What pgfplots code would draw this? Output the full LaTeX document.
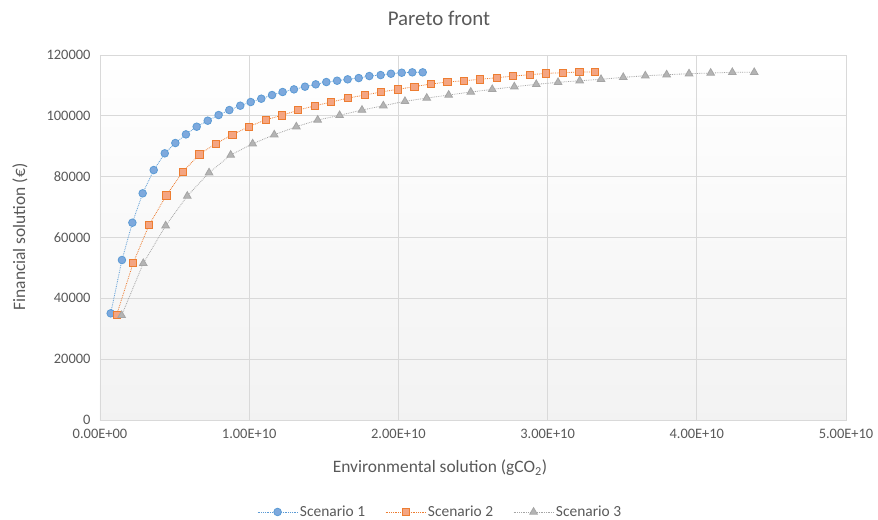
\documentclass[border=0pt]{standalone}
\usepackage{pgfplots}
\pgfplotsset{compat=1.18}
\usepackage{fontspec}
\setmainfont{Carlito}
\definecolor{gridgray}{HTML}{D9D9D9}
\definecolor{textgray}{HTML}{595959}
\definecolor{bluefill}{HTML}{7EA9DD}
\definecolor{blueline}{HTML}{5B9BD5}
\definecolor{orangefill}{HTML}{F4A582}
\definecolor{orangeline}{HTML}{ED7D31}
\definecolor{grayfill}{HTML}{B4B4B4}
\definecolor{grayline}{HTML}{A5A5A5}
\begin{document}
\begin{tikzpicture}
\path[use as bounding box] (-100bp,-100bp) rectangle (778bp,420bp);
\begin{axis}[
  at={(0,0)}, anchor=south west,
  scale only axis, width=746bp, height=365bp,
  xmin=0, xmax=5e10, ymin=0, ymax=120000,
  scaled ticks=false,
  xtick={0,1e10,2e10,3e10,4e10,5e10},
  xticklabels={0.00E+00,1.00E+10,2.00E+10,3.00E+10,4.00E+10,5.00E+10},
  ytick={0,20000,40000,60000,80000,100000,120000},
  yticklabels={0,20000,40000,60000,80000,100000,120000},
  grid=major,
  grid style={color=gridgray, line width=0.9bp},
  axis line style={color=gridgray, line width=0.9bp},
  major tick length=0pt,
  tick label style={font=\fontsize{14.5}{16}\selectfont, text=textgray},
  xticklabel style={yshift=-6bp},
  yticklabel style={xshift=-6bp},
  axis background/.style={shade, top color=white, bottom color=black!5},
  legend style={at={(0.456,-0.252)}, anchor=center, draw=none, fill=none,
    font=\fontsize{15.5}{17}\selectfont, text=textgray,
    /tikz/every even column/.append style={column sep=18bp}},
  legend columns=3,
  legend cell align=left,
  legend image code/.code={\draw[mark repeat=2,mark phase=2] plot coordinates {(0bp,0bp) (20bp,0bp) (40bp,0bp)};},
]
\addplot[blueline, densely dotted, line width=0.8bp, mark=*, mark size=3.8bp,
  mark options={solid, fill=bluefill, draw=blueline, line width=0.8bp}] coordinates {
(0.0717e10,35070) (0.147e10,52600) (0.217e10,64860) (0.286e10,74520) (0.360e10,82180)
(0.434e10,87670) (0.505e10,91060) (0.576e10,93900) (0.648e10,96420) (0.722e10,98400)
(0.795e10,100260) (0.867e10,101900) (0.940e10,103330) (1.010e10,104540) (1.081e10,105630)
(1.153e10,106840) (1.224e10,107830) (1.300e10,108700) (1.374e10,109580) (1.446e10,110350)
(1.517e10,111110) (1.589e10,111540) (1.660e10,112000) (1.734e10,112420) (1.805e10,113080)
(1.881e10,113400) (1.950e10,113840) (2.022e10,114170) (2.093e10,114300) (2.163e10,114300)
};
\addlegendentry{Scenario 1}
\addplot[orangeline, densely dotted, line width=0.8bp, mark=square*, mark size=3.6bp,
  mark options={solid, fill=orangefill, draw=orangeline, line width=0.8bp}] coordinates {
(0.112e10,34620) (0.223e10,51720) (0.330e10,64200) (0.445e10,73860) (0.554e10,81530)
(0.666e10,87340) (0.775e10,90830) (0.887e10,93790) (0.997e10,96420) (1.111e10,98720)
(1.220e10,100160) (1.329e10,101900) (1.441e10,103330) (1.550e10,104540) (1.662e10,105850)
(1.774e10,106840) (1.883e10,107830) (1.995e10,108700) (2.107e10,109580) (2.216e10,110460)
(2.328e10,111110) (2.438e10,111540) (2.547e10,112000) (2.659e10,112530) (2.770e10,113080)
(2.882e10,113520) (2.989e10,113960) (3.103e10,114180) (3.213e10,114400) (3.318e10,114400)
};
\addlegendentry{Scenario 2}
\addplot[grayline, densely dotted, line width=0.8bp, mark=triangle*, mark size=4.4bp,
  mark options={solid, fill=grayfill, draw=grayline, line width=0.8bp}] coordinates {
(0.145e10,34400) (0.290e10,51500) (0.440e10,63880) (0.585e10,73630) (0.731e10,81300)
(0.876e10,87110) (1.023e10,90830) (1.168e10,93790) (1.316e10,96420) (1.459e10,98620)
(1.606e10,100160) (1.756e10,101900) (1.899e10,103330) (2.044e10,104770) (2.190e10,105850)
(2.337e10,106840) (2.485e10,107830) (2.629e10,108700) (2.777e10,109580) (2.924e10,110350)
(3.070e10,111010) (3.215e10,111540) (3.358e10,112000) (3.507e10,112660) (3.655e10,113180)
(3.798e10,113520) (3.948e10,113850) (4.093e10,114070) (4.238e10,114300) (4.385e10,114300)
};
\addlegendentry{Scenario 3}
\end{axis}
\node[text=textgray, font=\fontsize{21}{24}\selectfont] at (339bp,402bp) {Pareto front};
\node[text=textgray, font=\fontsize{17.5}{20}\selectfont] at (340bp,-48bp) {Environmental solution (gCO\textsubscript{2})};
\node[text=textgray, font=\fontsize{17.5}{20}\selectfont, rotate=90] at (-80bp,183bp) {Financial solution (€)};
\end{tikzpicture}
\end{document}
